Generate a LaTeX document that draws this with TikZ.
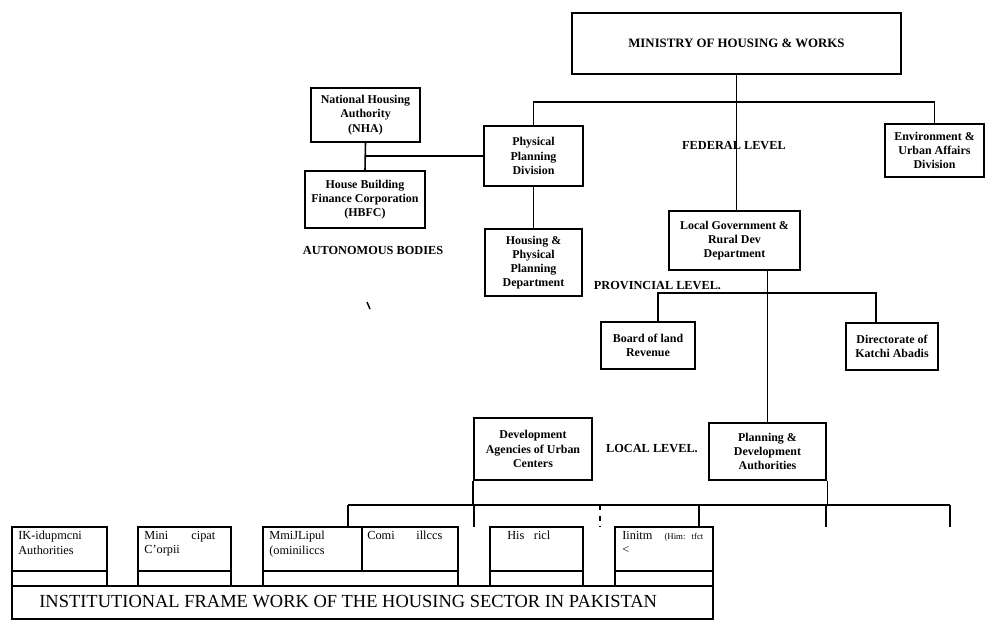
\documentclass[tikz,border=0pt]{standalone}
\usepackage{fontspec}
\setmainfont{Liberation Serif}
\usetikzlibrary{positioning,calc}

\begin{document}
\begin{tikzpicture}[
    x=0.2mm, y=-0.2mm,
    office/.style={draw, rectangle, line width=1.1pt, align=center, inner sep=0pt,
                   font=\bfseries\fontsize{6.8}{8.1}\selectfont},
    wh/.style 2 args={minimum width=#1*0.2mm, minimum height=#2*0.2mm},
    level/.style={font=\bfseries\fontsize{7}{8.4}\selectfont, inner sep=0pt},
    cell/.style={draw, rectangle, line width=1pt, anchor=north west, inner sep=0pt, outer sep=0pt},
    entry/.style={anchor=north west, align=left, inner sep=0pt, font=\fontsize{7}{8.1}\selectfont},
    link/.style={line width=0.9pt}
]
\useasboundingbox (0,0) rectangle (985,620);

\node[office, wh={329}{61}, font=\bfseries\fontsize{7.3}{8.8}\selectfont] (ministry) at (736.5,43.5) {MINISTRY OF HOUSING \& WORKS};
\node[office, wh={109}{54}] (nha) at (365.5,115) {National Housing\\Authority\\(NHA)};
\node[office, wh={99}{60}] (ppd) at (533.5,156) {Physical\\Planning\\Division};
\node[office, wh={99}{53}] (env) at (934.5,150.5) {Environment \&\\Urban Affairs\\Division};
\node[office, wh={120}{57}] (hbfc) at (365,199.5) {House Building\\Finance Corporation\\(HBFC)};
\node[office, wh={97}{67}] (hppd) at (533.5,262.5) {Housing \&\\Physical\\Planning\\Department};
\node[office, wh={131}{59}] (localgov) at (734.5,240.5) {Local Government \&\\Rural Dev\\Department};
\node[office, wh={94}{47}] (board) at (648,345.5) {Board of land\\Revenue};
\node[office, wh={92}{47}] (katchi) at (892,346.5) {Directorate of\\Katchi Abadis};
\node[office, wh={118}{62}] (devagency) at (533,449) {Development\\Agencies of Urban\\Centers};
\node[office, wh={117}{57}] (pda) at (767.5,451.5) {Planning \&\\Development\\Authorities};

\node[level] (federal) at (734,146) {FEDERAL LEVEL};
\node[level] (autonomous) at (373,250) {AUTONOMOUS BODIES};
\node[level] (provincial) at (657.5,286) {PROVINCIAL LEVEL.};
\node[level] (local) at (652,449) {LOCAL LEVEL.};

\coordinate (fedbar) at (736.5,102);
\draw[link] (ministry.south) -- (ministry.south |- localgov.north);
\draw[link] (ppd.north) |- (fedbar) -| (env.north);
\draw[link] (nha.south) -- (hbfc.north);
\draw[link] (nha.south |- ppd.west) -- (ppd.west);
\draw[link] (ppd.south) -- (hppd.north);
\draw[link] (pda.north |- localgov.south) -- (pda.north);

\coordinate (provbar) at (766,293);
\draw[link] ($(board.north)+(10,0)$) |- (provbar) -| ($(katchi.north)+(-16,0)$);

\coordinate (lbarL) at (348,505);
\coordinate (lbarR) at (950,505);
\draw[link] (lbarL) -- (lbarR);
\draw[link] (devagency.south west) -- (devagency.south west |- lbarL);
\draw[thin] (pda.south east) -- (pda.south east |- lbarL);
\foreach \x/\n in {348/1, 474/2, 699/4, 826/5, 950/6}
    { \coordinate (drop\n) at (\x,527); \draw[link] (drop\n |- lbarL) -- (drop\n); }
\coordinate (drop3) at (600,527);
\draw[link, dashed] (drop3 |- lbarL) -- (drop3);

\draw[line width=0.8pt] (367,302) -- (370,309);

\node[cell, wh={95}{44}] (cellA) at (12,527) {};
\node[cell, wh={95}{15}] (stripA) at (12,571) {};
\node[cell, wh={93}{44}] (cellB) at (138,527) {};
\node[cell, wh={93}{15}] (stripB) at (138,571) {};
\node[cell, wh={99}{44}] (cellC) at (263,527) {};
\node[cell, wh={96}{44}] (cellD) at (362,527) {};
\node[cell, wh={195}{15}] (stripC) at (263,571) {};
\node[cell, wh={93}{44}] (cellE) at (490,527) {};
\node[cell, wh={93}{15}] (stripE) at (490,571) {};
\node[cell, wh={98}{44}] (cellF) at (615,527) {};
\node[cell, wh={98}{15}] (stripF) at (615,571) {};
\node[cell, wh={701}{33}] (frame) at (12,586) {};

\node[entry] (txtA) at (18,531) {IK-idupmcni\\Authorities};
\node[entry, text width=14.2mm] (txtB) at (144,531) {Mini\hfill cipat\\C'orpii};
\node[entry] (txtC) at (269,531) {MmiJLipul\\(ominiliccs};
\node[entry, text width=15mm] (txtD) at (367,531) {Comi\hfill illccs};
\node[entry, text width=8.6mm] (txtE) at (507,531) {His\hfill ricl};
\node[entry, text width=16.2mm] (txtF) at (622,531) {Iinitm\hfill{\fontsize{5}{6}\selectfont(Him: tfct}\\<};
\node[anchor=base west, inner sep=0pt, font=\fontsize{10.5}{12}\selectfont] (title) at (39,607)
    {INSTITUTIONAL FRAME WORK OF THE HOUSING SECTOR IN PAKISTAN};

\end{tikzpicture}
\end{document}
